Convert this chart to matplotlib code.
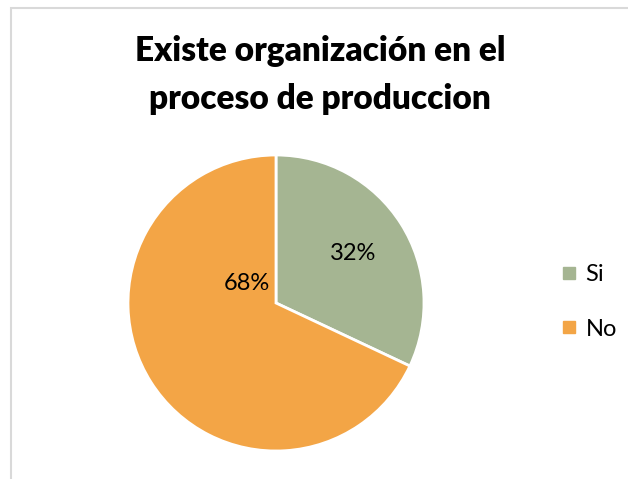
import matplotlib.pyplot as plt
from matplotlib.patches import Rectangle
from matplotlib.lines import Line2D

# Data
labels = ["Si", "No"]
values = [32, 68]
colors = ["#A5B592", "#F3A546"]
title = "Existe organización en el\nproceso de produccion"

plt.rcParams['font.family'] = ['Lato', 'DejaVu Sans']

fig = plt.figure(figsize=(6.28, 4.79), dpi=100)

# light grey chart border (only left and top visible in the crop)
fig.patches.append(Rectangle((11 / 628, -0.5), 2, 1.5 - 8 / 479, transform=fig.transFigure,
                             fill=False, edgecolor="#D9D9D9", linewidth=1.5))

# pie axes: center (276, 303) px, radius 148 px
ax = fig.add_axes([(276 - 148) / 628, (479 - 303 - 148) / 479, 296 / 628, 296 / 479])
wedges, texts, autotexts = ax.pie(values, colors=colors, startangle=90, counterclock=False,
                                  autopct='%1.0f%%', pctdistance=0.62,
                                  wedgeprops=dict(edgecolor="white", linewidth=2),
                                  textprops=dict(fontsize=17, color="black"))
# Excel's "best fit" put the big label up near the centre
autotexts[1].set_position((-0.2, 0.13))
ax.set_xlim(-1, 1)
ax.set_ylim(-1, 1)
ax.set_aspect('equal')

fig.text(320 / 628, 1 - 75 / 479, title, ha="center", va="center", fontsize=24,
         fontweight="heavy", linespacing=1.62)

handles = [Line2D([0], [0], marker='s', linestyle='', markersize=8,
                  markerfacecolor=c, markeredgecolor=c) for c in colors]
fig.legend(handles, labels, loc="center left", bbox_to_anchor=(536 / 628, 1 - 302 / 479),
           frameon=False, fontsize=17, handletextpad=0.2, labelspacing=1.4,
           handlelength=1.0)

fig.savefig("out.png", dpi=100)
